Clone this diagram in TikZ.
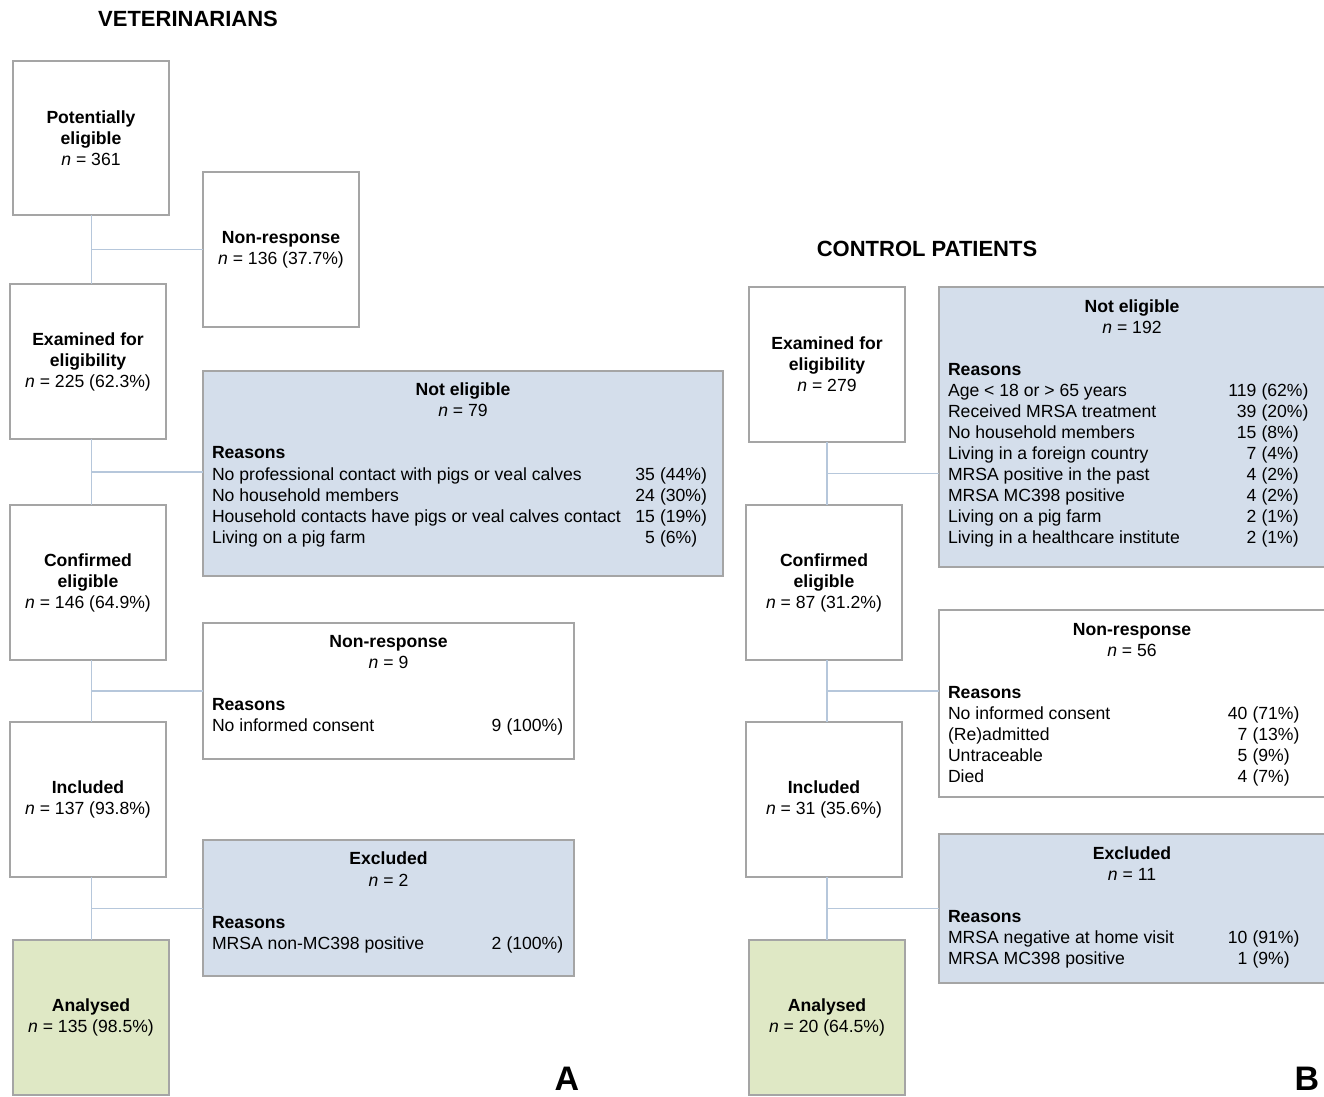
\documentclass[tikz,border=0pt]{standalone}
\usepackage{fontspec}
\setmainfont{Liberation Sans}
\usetikzlibrary{calc}
\definecolor{bordergray}{HTML}{A5A5A5}
\definecolor{boxblue}{HTML}{D4DEEB}
\definecolor{boxgreen}{HTML}{DFE8C5}
\definecolor{connblue}{HTML}{B6C7DB}
\tikzset{
  base box/.style={draw=bordergray, line width=1.3pt, inner sep=0pt, outer sep=0pt, align=center,
    font=\fontsize{17.6}{21}\selectfont},
  whitebox/.style={base box, fill=white},
  bluebox/.style={base box, fill=boxblue},
  greenbox/.style={base box, fill=boxgreen},
  txt/.style={inner sep=0pt, outer sep=0pt, font=\fontsize{17.6}{21}\selectfont},
  paneltitle/.style={inner sep=0pt, font=\fontsize{22}{25}\selectfont\bfseries},
  panelletter/.style={inner sep=0pt, font=\fontsize{34}{40}\selectfont\bfseries},
  conn/.style={draw=connblue, line width=1.1pt},
}
\newcommand\flowbox[7]{%
  \node[#2, minimum width={(#5-#3)*1pt}, minimum height={(#6-#4)*1pt}] (#1) at ({(#3+#5)/2},{(#4+#6)/2}) {#7};}
\newcommand\rrow[7]{%
  \node[txt,anchor=base west] (#1) at (#2,#3) {#4};
  \node[txt,anchor=base east] (#1n) at (#5,#3) {#6};
  \node[txt,anchor=base west] (#1p) at (#5+5,#3) {#7};}
\begin{document}
\begin{tikzpicture}[x=1pt,y=-1pt]
\useasboundingbox (0,0) rectangle (1324,1096);
\fill[white] (0,0) rectangle (1324,1096);

% ================= Panel A =================
\node[paneltitle] (tA) at (188,19) {VETERINARIANS};

\coordinate (spA) at (91.5,215);
\flowbox{peA}{whitebox}{13}{61}{169}{215}{\textbf{Potentially}\\\textbf{eligible}\\\textit{n} = 361}
\flowbox{nr1A}{whitebox}{203}{172}{359}{327}{\textbf{Non-response}\\\textit{n} = 136 (37.7\%)}
\flowbox{exA}{whitebox}{10}{284}{166}{439}{\textbf{Examined for}\\\textbf{eligibility}\\\textit{n} = 225 (62.3\%)}
\flowbox{neA}{bluebox}{203}{371}{723}{576}{}
\flowbox{ceA}{whitebox}{10}{505}{166}{660}{\textbf{Confirmed}\\\textbf{eligible}\\\textit{n} = 146 (64.9\%)}
\flowbox{nr2A}{whitebox}{203}{623}{574}{759}{}
\flowbox{inA}{whitebox}{10}{722}{166}{877}{\textbf{Included}\\\textit{n} = 137 (93.8\%)}
\flowbox{excA}{bluebox}{203}{840}{574}{976}{}
\flowbox{anA}{greenbox}{13}{940}{169}{1095}{\textbf{Analysed}\\\textit{n} = 135 (98.5\%)}

\draw[conn] (spA |- peA.south) -- (spA |- exA.north);
\draw[conn] (spA |- exA.south) -- (spA |- ceA.north);
\draw[conn] (spA |- ceA.south) -- (spA |- inA.north);
\draw[conn] (spA |- inA.south) -- (spA |- anA.north);
\draw[conn] (spA |- nr1A.west) -- (nr1A.west);
\draw[conn] ($(spA |- exA.south)!0.5!(spA |- ceA.north)$) -- (neA.west |- {$(exA.south)!0.5!(ceA.north)$});
\draw[conn] ($(spA |- ceA.south)!0.5!(spA |- inA.north)$) -- (nr2A.west |- {$(ceA.south)!0.5!(inA.north)$});
\draw[conn] ($(spA |- inA.south)!0.5!(spA |- anA.north)$) -- (excA.west |- {$(inA.south)!0.5!(anA.north)$});

% Not eligible (A)
\node[txt,anchor=base] (neAt) at (463,395) {\textbf{Not eligible}};
\node[txt,anchor=base] (neAn) at (463,416) {\textit{n} = 79};
\node[txt,anchor=base west] (neAr) at (212,458) {\textbf{Reasons}};
\rrow{neA1}{212}{480}{No professional contact with pigs or veal calves}{655}{35}{(44\%)}
\rrow{neA2}{212}{501}{No household members}{655}{24}{(30\%)}
\rrow{neA3}{212}{522}{Household contacts have pigs or veal calves contact}{655}{15}{(19\%)}
\rrow{neA4}{212}{543}{Living on a pig farm}{655}{5}{(6\%)}

% Non-response (A)
\node[txt,anchor=base] (nr2At) at (388.5,647) {\textbf{Non-response}};
\node[txt,anchor=base] (nr2An) at (388.5,668) {\textit{n} = 9};
\node[txt,anchor=base west] (nr2Ar) at (212,710) {\textbf{Reasons}};
\rrow{nr2A1}{212}{731}{No informed consent}{501.5}{9}{(100\%)}

% Excluded (A)
\node[txt,anchor=base] (excAt) at (388.5,864) {\textbf{Excluded}};
\node[txt,anchor=base] (excAn) at (388.5,886) {\textit{n} = 2};
\node[txt,anchor=base west] (excAr) at (212,928) {\textbf{Reasons}};
\rrow{excA1}{212}{949}{MRSA non-MC398 positive}{501.5}{2}{(100\%)}

\node[panelletter,anchor=base] (lA) at (567,1090) {A};

% ================= Panel B =================
\node[paneltitle] (tB) at (927,249) {CONTROL PATIENTS};
\coordinate (spB) at (827,442);
\flowbox{exB}{whitebox}{749}{287}{905}{442}{\textbf{Examined for}\\\textbf{eligibility}\\\textit{n} = 279}
\flowbox{neB}{bluebox}{939}{287}{1325.5}{567}{}
\flowbox{ceB}{whitebox}{746}{505}{902}{660}{\textbf{Confirmed}\\\textbf{eligible}\\\textit{n} = 87 (31.2\%)}
\flowbox{nrB}{whitebox}{939}{610}{1325.5}{797}{}
\flowbox{inB}{whitebox}{746}{722}{902}{877}{\textbf{Included}\\\textit{n} = 31 (35.6\%)}
\flowbox{excB}{bluebox}{939}{834}{1325.5}{983}{}
\flowbox{anB}{greenbox}{749}{940}{905}{1095}{\textbf{Analysed}\\\textit{n} = 20 (64.5\%)}

\draw[conn] (spB |- exB.south) -- (spB |- ceB.north);
\draw[conn] (spB |- ceB.south) -- (spB |- inB.north);
\draw[conn] (spB |- inB.south) -- (spB |- anB.north);
\draw[conn] ($(spB |- exB.south)!0.5!(spB |- ceB.north)$) -- (neB.west |- {$(exB.south)!0.5!(ceB.north)$});
\draw[conn] ($(spB |- ceB.south)!0.5!(spB |- inB.north)$) -- (nrB.west |- {$(ceB.south)!0.5!(inB.north)$});
\draw[conn] ($(spB |- inB.south)!0.5!(spB |- anB.north)$) -- (excB.west |- {$(inB.south)!0.5!(anB.north)$});

% Not eligible (B)
\node[txt,anchor=base] (neBt) at (1132,312) {\textbf{Not eligible}};
\node[txt,anchor=base] (neBn) at (1132,333) {\textit{n} = 192};
\node[txt,anchor=base west] (neBr) at (948,375) {\textbf{Reasons}};
\rrow{neB1}{948}{396}{Age < 18 or > 65 years}{1256.5}{119}{(62\%)}
\rrow{neB2}{948}{417}{Received MRSA treatment}{1256.5}{39}{(20\%)}
\rrow{neB3}{948}{438}{No household members}{1256.5}{15}{(8\%)}
\rrow{neB4}{948}{459}{Living in a foreign country}{1256.5}{7}{(4\%)}
\rrow{neB5}{948}{480}{MRSA positive in the past}{1256.5}{4}{(2\%)}
\rrow{neB6}{948}{501}{MRSA MC398 positive}{1256.5}{4}{(2\%)}
\rrow{neB7}{948}{522}{Living on a pig farm}{1256.5}{2}{(1\%)}
\rrow{neB8}{948}{543}{Living in a healthcare institute}{1256.5}{2}{(1\%)}

% Non-response (B)
\node[txt,anchor=base] (nrBt) at (1132,635) {\textbf{Non-response}};
\node[txt,anchor=base] (nrBn) at (1132,656) {\textit{n} = 56};
\node[txt,anchor=base west] (nrBr) at (948,698) {\textbf{Reasons}};
\rrow{nrB1}{948}{719}{No informed consent}{1247.5}{40}{(71\%)}
\rrow{nrB2}{948}{740}{(Re)admitted}{1247.5}{7}{(13\%)}
\rrow{nrB3}{948}{761}{Untraceable}{1247.5}{5}{(9\%)}
\rrow{nrB4}{948}{782}{Died}{1247.5}{4}{(7\%)}

% Excluded (B)
\node[txt,anchor=base] (excBt) at (1132,859) {\textbf{Excluded}};
\node[txt,anchor=base] (excBn) at (1132,880) {\textit{n} = 11};
\node[txt,anchor=base west] (excBr) at (948,922) {\textbf{Reasons}};
\rrow{excB1}{948}{943}{MRSA negative at home visit}{1247.5}{10}{(91\%)}
\rrow{excB2}{948}{964}{MRSA MC398 positive}{1247.5}{1}{(9\%)}

\node[panelletter,anchor=base] (lB) at (1307,1090) {B};
\end{tikzpicture}
\end{document}
